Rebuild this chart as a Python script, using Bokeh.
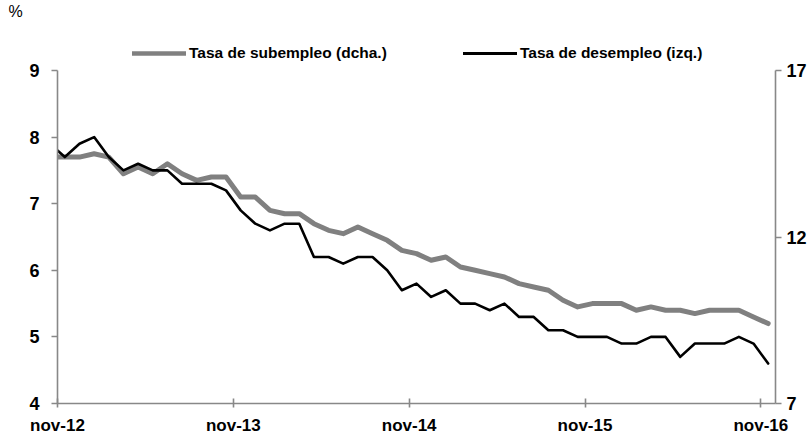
from bokeh.plotting import figure
from bokeh.layouts import column
from bokeh.models import Range1d, LinearAxis, FixedTicker, Legend, LegendItem
from bokeh.embed import file_html
from bokeh.resources import INLINE

# Monthly categories (oct-12 precedes the visible axis start and is clipped)
month_names = ["ene", "feb", "mar", "abr", "may", "jun", "jul", "ago", "sep", "oct", "nov", "dic"]
months = []
for yy in range(12, 17):
    for mi, mn in enumerate(month_names):
        if (yy == 12 and mi < 9) or (yy == 16 and mi > 10):
            continue
        months.append(f"{mn}-{yy}")

# Tasa de desempleo (izq.), %
desempleo = [7.9, 7.7, 7.9, 8.0, 7.7, 7.5, 7.6, 7.5, 7.5, 7.3, 7.3, 7.3, 7.2,
             6.9, 6.7, 6.6, 6.7, 6.7, 6.2, 6.2, 6.1, 6.2, 6.2, 6.0, 5.7,
             5.8, 5.6, 5.7, 5.5, 5.5, 5.4, 5.5, 5.3, 5.3, 5.1, 5.1, 5.0,
             5.0, 5.0, 4.9, 4.9, 5.0, 5.0, 4.7, 4.9, 4.9, 4.9, 5.0, 4.9, 4.6]

# Tasa de subempleo (dcha.), %
subempleo = [14.4, 14.4, 14.4, 14.5, 14.4, 13.9, 14.1, 13.9, 14.2, 13.9, 13.7, 13.8, 13.8,
             13.2, 13.2, 12.8, 12.7, 12.7, 12.4, 12.2, 12.1, 12.3, 12.1, 11.9, 11.6,
             11.5, 11.3, 11.4, 11.1, 11.0, 10.9, 10.8, 10.6, 10.5, 10.4, 10.1, 9.9,
             10.0, 10.0, 10.0, 9.8, 9.9, 9.8, 9.8, 9.7, 9.8, 9.8, 9.8, 9.6, 9.4]

series_labels = ["Tasa de subempleo (dcha.)", "Tasa de desempleo (izq.)"]
tick_labels = ["nov-12", "nov-13", "nov-14", "nov-15", "nov-16"]
left_ticks = [4, 5, 6, 7, 8, 9]
right_ticks = [7, 12, 17]

start = months.index("nov-12")
# each month occupies one unit; data point at the middle of its month
x = [i - start + 0.5 for i in range(len(months))]
n_months = len(months) - start
tick_pos = [months.index(t) - start for t in tick_labels]

FONT = "Liberation Sans"
AXIS_COLOR = "#888888"
GRAY = "#808080"
W = 812
HEAD_H = 62
LEFT = 57
NAN = float("nan")

# ---- header: unit label (title) and legend ----
head = figure(width=W, height=HEAD_H, output_backend="svg", toolbar_location=None,
              x_axis_location=None, y_axis_location=None,
              x_range=Range1d(0, 1), y_range=Range1d(0, 1),
              min_border_left=0, min_border_right=0, min_border_top=0, min_border_bottom=0)
head.grid.visible = False
head.outline_line_color = None
head.title.text = "%"
head.title.align = "left"
head.title.offset = 8 - LEFT
head.title.text_font = FONT
head.title.text_font_style = "normal"
head.title.text_font_size = "16px"
head.title.text_color = "black"
head.title.standoff = 0
# legend-only renderers (a single empty point, nothing is drawn in the header)
h_sub = head.line([NAN], [NAN], line_color=GRAY, line_width=4.5, line_cap="round")
h_des = head.line([NAN], [NAN], line_color="black", line_width=3, line_cap="round")
legend = Legend(items=[LegendItem(label=series_labels[0], renderers=[h_sub]),
                       LegendItem(label=series_labels[1], renderers=[h_des])],
                location=(132 - LEFT, 0), orientation="horizontal", border_line_color=None,
                background_fill_alpha=0, padding=0, margin=0, spacing=0,
                glyph_width=54, glyph_height=16, label_height=16, label_width=274,
                label_standoff=3, label_text_font=FONT, label_text_font_style="bold",
                label_text_font_size="15.5px", label_text_color="black")
head.add_layout(legend, "center")

# ---- main chart ----
p = figure(width=W, height=441 - HEAD_H, output_backend="svg", toolbar_location=None,
           x_range=Range1d(0, n_months), y_range=Range1d(4, 9),
           min_border_left=LEFT, min_border_right=37, min_border_top=8, min_border_bottom=38)
p.extra_y_ranges = {"right": Range1d(7, 17)}
p.outline_line_color = None
p.xgrid.visible = False
p.ygrid.visible = False

p.line(x, subempleo, y_range_name="right", line_color=GRAY, line_width=5,
       line_join="round", line_cap="round")
p.line(x, desempleo, line_color="black", line_width=2.6, line_join="round", line_cap="round")

xa = p.xaxis[0]
xa.ticker = FixedTicker(ticks=tick_pos)
xa.major_label_overrides = {tp: lbl for tp, lbl in zip(tick_pos, tick_labels)}
xa.major_tick_in = 5
xa.major_tick_out = 4
xa.major_label_standoff = 8
xa.major_label_text_font_size = "17px"

ya = p.yaxis[0]
ya.ticker = FixedTicker(ticks=left_ticks)
ya.major_tick_in = 0
ya.major_tick_out = 6
ya.major_label_standoff = 12
ya.major_label_text_font_size = "18px"

yr = LinearAxis(y_range_name="right", ticker=FixedTicker(ticks=right_ticks))
yr.major_tick_in = 0
yr.major_tick_out = 6
yr.major_label_standoff = 5
yr.major_label_text_font_size = "18px"
p.add_layout(yr, "right")

for ax in (xa, ya, yr):
    ax.minor_tick_line_color = None
    ax.axis_line_color = AXIS_COLOR
    ax.axis_line_width = 1.6
    ax.major_tick_line_color = AXIS_COLOR
    ax.major_tick_line_width = 1.6
    ax.major_label_text_font = FONT
    ax.major_label_text_font_style = "bold"
    ax.major_label_text_color = "black"

layout = column(head, p, spacing=0)
open("out.html", "w").write(file_html(layout, INLINE))
